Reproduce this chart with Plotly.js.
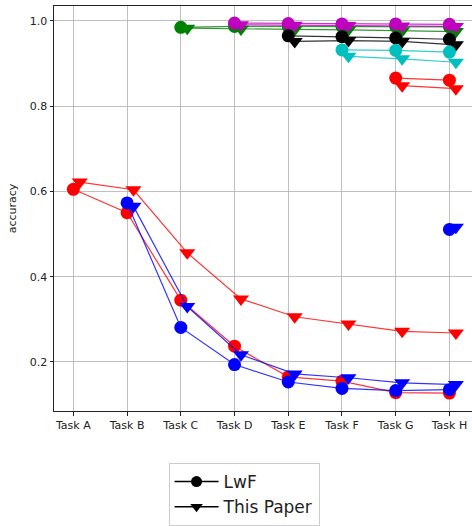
<!DOCTYPE html>
<html>
<head>
<meta charset="utf-8">
<script src="https://cdn.plot.ly/plotly-3.0.1.min.js"></script>
<style>html,body{margin:0;padding:0;background:#fff;}#chart{width:472px;height:526px;}</style>
</head>
<body>
<div id="chart"></div>
<script>
const tasks = ['Task A','Task B','Task C','Task D','Task E','Task F','Task G','Task H'];

// accuracy of each task, measured after training on that task and every later one
const taskA_lwf   = [0.605, 0.550, 0.345, 0.237, 0.165, 0.155, 0.128, 0.127];
const taskA_paper = [0.622, 0.604, 0.456, 0.348, 0.306, 0.289, 0.272, 0.268];
const taskB_lwf   = [0.573, 0.281, 0.194, 0.153, 0.138, 0.133, 0.135];
const taskB_paper = [0.565, 0.330, 0.217, 0.172, 0.163, 0.151, 0.147];
const taskC_lwf   = [0.985, 0.987, 0.987, 0.987, 0.987, 0.986];
const taskC_paper = [0.983, 0.981, 0.980, 0.979, 0.977, 0.975];
const taskD_lwf   = [0.995, 0.994, 0.993, 0.993, 0.992];
const taskD_paper = [0.991, 0.990, 0.989, 0.988, 0.987];
const taskE_lwf   = [0.965, 0.963, 0.960, 0.957];
const taskE_paper = [0.952, 0.954, 0.952, 0.944];
const taskF_lwf   = [0.932, 0.931, 0.927];
const taskF_paper = [0.917, 0.911, 0.903];
const taskG_lwf   = [0.866, 0.861];
const taskG_paper = [0.848, 0.841];
const taskH_lwf   = [0.511];
const taskH_paper = [0.516];

const seriesNames = ['LwF', 'This Paper'];
const lwfSeries   = [taskA_lwf, taskB_lwf, taskC_lwf, taskD_lwf, taskE_lwf, taskF_lwf, taskG_lwf, taskH_lwf];
const paperSeries = [taskA_paper, taskB_paper, taskC_paper, taskD_paper, taskE_paper, taskF_paper, taskG_paper, taskH_paper];

const colors = ['#ff0000', '#0000ff', '#008000', '#bf00bf', '#000000', '#00bfbf'];
const lineColors = ['rgba(255,0,0,0.8)', 'rgba(0,0,255,0.8)', 'rgba(0,128,0,0.8)', 'rgba(191,0,191,0.8)', 'rgba(0,0,0,0.8)', 'rgba(0,191,191,0.8)'];
const PAPER_SHIFT = 0.12;

const traces = [];
for (let t = 0; t < tasks.length; t++) {
  const c = colors[t % colors.length];
  const lc = lineColors[t % lineColors.length];
  const xs = [];
  for (let k = 0; k < lwfSeries[t].length; k++) xs.push(t + k);
  traces.push({
    x: xs.map(v => v + PAPER_SHIFT), y: paperSeries[t], type: 'scatter', mode: 'lines+markers',
    line: {color: lc, width: 1.2}, marker: {symbol: 'triangle-down', size: 14, color: c},
    showlegend: false, hoverinfo: 'y'
  });
  traces.push({
    x: xs, y: lwfSeries[t], type: 'scatter', mode: 'lines+markers',
    line: {color: lc, width: 1.2}, marker: {symbol: 'circle', size: 13, color: c},
    showlegend: false, hoverinfo: 'y'
  });
}
// legend entries
traces.push({x: [null], y: [null], type: 'scatter', mode: 'lines+markers', name: seriesNames[0],
  line: {color: '#000', width: 1.5}, marker: {symbol: 'circle', size: 11, color: '#000'}});
traces.push({x: [null], y: [null], type: 'scatter', mode: 'lines+markers', name: seriesNames[1],
  line: {color: '#000', width: 1.5}, marker: {symbol: 'triangle-down', size: 11, color: '#000'}});

const layout = {
  width: 472, height: 526,
  margin: {l: 54, r: 0, t: 6, b: 113},
  paper_bgcolor: '#fff', plot_bgcolor: '#fff',
  font: {family: 'DejaVu Sans', size: 11, color: '#222'},
  xaxis: {
    range: [-0.36, 7.42], tickvals: [0,1,2,3,4,5,6,7], ticktext: tasks,
    showgrid: true, gridcolor: '#b0b0b0', gridwidth: 0.8,
    showline: true, linecolor: '#222', linewidth: 1, mirror: true,
    ticks: 'outside', ticklen: 3.5, tickcolor: '#222', zeroline: false,
    tickfont: {family: 'DejaVu Sans', size: 11, color: '#222'}
  },
  yaxis: {
    range: [0.085, 1.035], tickvals: [0.2, 0.4, 0.6, 0.8, 1.0], ticktext: ['0.2','0.4','0.6','0.8','1.0'],
    showgrid: true, gridcolor: '#b0b0b0', gridwidth: 0.8,
    showline: true, linecolor: '#222', linewidth: 1, mirror: false,
    ticks: 'outside', ticklen: 3.5, tickcolor: '#222', zeroline: false,
    tickfont: {family: 'DejaVu Sans', size: 11, color: '#222'},
    title: {text: 'accuracy', font: {family: 'DejaVu Sans', size: 11, color: '#222'}, standoff: 10}
  },
  showlegend: true,
  legend: {
    x: 0.274, y: -0.129, xanchor: 'left', yanchor: 'top',
    bgcolor: '#fff', bordercolor: '#cccccc', borderwidth: 1,
    font: {family: 'DejaVu Sans', size: 17, color: '#222'},
    itemwidth: 44, tracegroupgap: 0
  }
};

Plotly.newPlot('chart', traces, layout, {staticPlot: true, displayModeBar: false});
</script>
</body>
</html>
